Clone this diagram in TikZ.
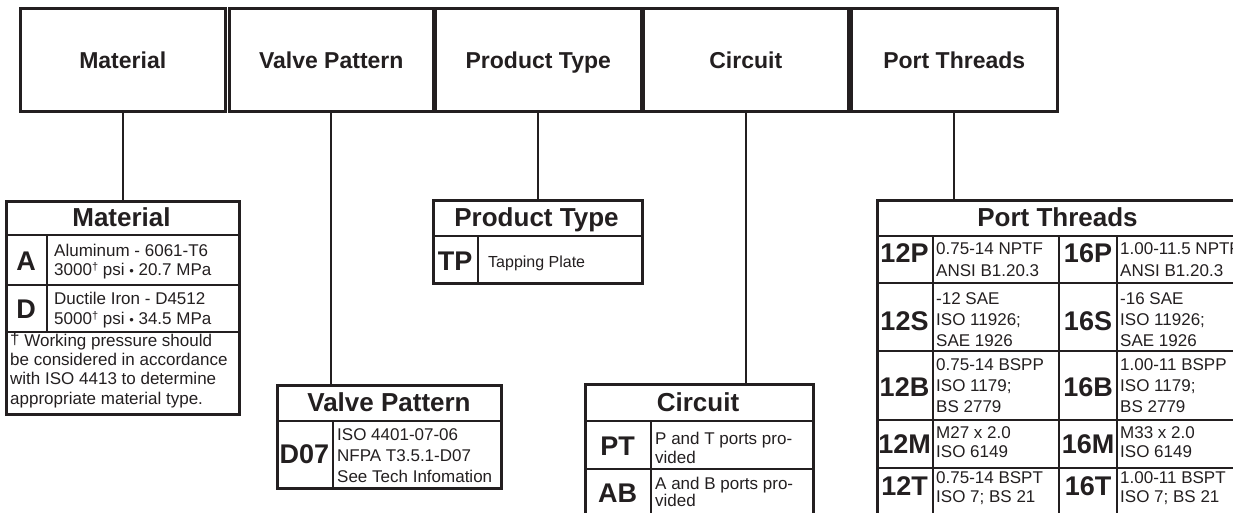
\documentclass[tikz,border=0pt]{standalone}
\usepackage{fontspec}
\setmainfont{Liberation Sans}
\definecolor{ink}{HTML}{231F20}
\newcommand\mybul{{\fontsize{13}{13}\selectfont •}}
\newcommand\mydag{\raisebox{5pt}{\fontsize{11}{11}\selectfont †}}
\begin{document}
\begin{tikzpicture}[x=1pt,y=-1pt,
  topbox/.style={draw=ink, line width=2.5pt, rectangle, inner sep=0pt, anchor=north west,
    minimum height=103pt, text=ink, font=\fontsize{23}{23}\selectfont\bfseries,
    text height=16.5pt, text depth=0pt},
  tab/.style={draw=ink, line width=2.6pt, rectangle, inner sep=0pt, anchor=north west},
  hdr/.style={font=\fontsize{26}{26}\selectfont\bfseries, anchor=base, inner sep=0pt, text=ink},
  code/.style={font=\fontsize{27}{27}\selectfont\bfseries, anchor=base, inner sep=0pt, text=ink},
  desc/.style={font=\fontsize{17}{#1}\selectfont, align=left, anchor=west, inner sep=0pt, text=ink},
  desc/.default=19,
  hl/.style={draw=ink, line width=2.1pt},
  vl/.style={draw=ink, line width=1.6pt},
  vthick/.style={draw=ink, line width=2.6pt},
  conn/.style={draw=ink, line width=2pt}]
\useasboundingbox (0,0) rectangle (1233,512);

% top boxes
\node[topbox, minimum width=205pt] (tmat) at (19,7) {Material};
\node[topbox, minimum width=204pt] (tvp) at (228,7) {Valve Pattern};
\node[topbox, minimum width=206pt] (tpt) at (434,7) {Product Type};
\node[topbox, minimum width=205pt] (tci) at (642,7) {Circuit};
\node[topbox, minimum width=206pt] (tpo) at (850,7) {Port Threads};

% table outlines
\node[tab, minimum width=233pt, minimum height=213pt] (mattab) at (5,200) {};
\node[tab, minimum width=224pt, minimum height=103pt] (vptab) at (276,384) {};
\node[tab, minimum width=209pt, minimum height=83pt] (pttab) at (432,199) {};
\node[tab, minimum width=228pt, minimum height=134pt] (citab) at (584,383) {};
\node[tab, minimum width=363pt, minimum height=316pt] (potab) at (876,199) {};

% connectors
\draw[conn] (tmat.south) -- (tmat.south |- mattab.north);
\draw[conn] (tvp.south) -- (tvp.south |- vptab.north);
\draw[conn] (tpt.south) -- (tpt.south |- pttab.north);
\draw[conn] (tci.south) -- (tci.south |- citab.north);
\draw[conn] (tpo.south) -- (tpo.south |- potab.north);

% Material table
\draw[hl] (5,235) -- (238,235);
\draw[hl] (5,285) -- (238,285);
\draw[hl] (5,332) -- (238,332);
\draw[vl] (47,235) -- (47,332);
\node[hdr] (mh) at (121.5,226.8) {Material};
\node[code] (ca) at (26,270) {A};
\node[code] (cd) at (26,318) {D};
\node[desc=19] (da) at (54,262) {Aluminum - 6061-T6\\3000\mydag\ psi \mybul\ 20.7 MPa};
\node[desc=20] (dd) at (54,310) {Ductile Iron - D4512\\5000\mydag\ psi \mybul\ 34.5 MPa};
\node[desc=19.3] (fn) at (10,370) {\raisebox{1.5pt}{†} Working pressure should\\be considered in accordance\\with ISO 4413 to determine\\appropriate material type.};

% Valve Pattern table
\draw[hl] (276,421) -- (500,421);
\draw[vl] (333,421) -- (333,487);
\node[hdr] (vh) at (389,411.8) {Valve Pattern};
\node[code] (cd07) at (304.5,463) {D07};
\node[desc=21] (dd07) at (337,456) {ISO 4401-07-06\\NFPA T3.5.1-D07\\See Tech Infomation};

% Product Type table
\draw[hl] (432,236) -- (641,236);
\draw[vl] (478,236) -- (478,282);
\node[hdr] (ph) at (536.5,226.8) {Product Type};
\node[code] (ctp) at (455,270) {TP};
\node[font=\fontsize{16}{16}\selectfont, anchor=base west, inner sep=0pt, text=ink] (dtp) at (488,267) {Tapping Plate};

% Circuit table
\draw[hl] (584,421) -- (812,421);
\draw[hl] (584,469) -- (812,469);
\draw[vl] (651,421) -- (651,517);
\node[hdr] (ch) at (698,411.3) {Circuit};
\node[code] (cpt) at (617.5,455) {PT};
\node[code] (cab) at (617.5,502) {AB};
\node[desc=19] (dpt) at (655,447.5) {P and T ports pro-\\vided};
\node[desc=17] (dab) at (655,491.5) {A and B ports pro-\\vided};

% Port Threads table
\draw[hl] (876,236) -- (1239,236);
\draw[hl] (876,283) -- (1239,283);
\draw[hl] (876,351) -- (1239,351);
\draw[hl] (876,420) -- (1239,420);
\draw[hl] (876,468) -- (1239,468);
\draw[vl] (933,236) -- (933,515);
\draw[vthick] (1059,236) -- (1059,515);
\draw[vl] (1117,236) -- (1117,515);
\node[hdr] (poh) at (1057.5,226.8) {Port Threads};
\node[code] (c12p) at (904.5,262) {12P};
\node[code] (c16p) at (1088,262) {16P};
\node[code] (c12s) at (904.5,330) {12S};
\node[code] (c16s) at (1088,330) {16S};
\node[code] (c12b) at (904.5,396) {12B};
\node[code] (c16b) at (1088,396) {16B};
\node[code] (c12m) at (904.5,453) {12M};
\node[code] (c16m) at (1088,453) {16M};
\node[code] (c12t) at (904.5,495) {12T};
\node[code] (c16t) at (1088,495) {16T};
\node[desc=22] (d12p) at (936,259.5) {0.75-14 NPTF\\ANSI B1.20.3};
\node[desc=22] (d16p) at (1120,259.5) {1.00-11.5 NPTF\\ANSI B1.20.3};
\node[desc=21] (d12s) at (936,319.5) {-12 SAE\\ISO 11926;\\SAE 1926};
\node[desc=21] (d16s) at (1120,319.5) {-16 SAE\\ISO 11926;\\SAE 1926};
\node[desc=21] (d12b) at (936,386) {0.75-14 BSPP\\ISO 1179;\\BS 2779};
\node[desc=21] (d16b) at (1120,386) {1.00-11 BSPP\\ISO 1179;\\BS 2779};
\node[desc=19] (d12m) at (936,442.5) {M27 x 2.0\\ISO 6149};
\node[desc=19] (d16m) at (1120,442.5) {M33 x 2.0\\ISO 6149};
\node[desc=19] (d12t) at (936,488) {0.75-14 BSPT\\ISO 7; BS 21};
\node[desc=19] (d16t) at (1120,488) {1.00-11 BSPT\\ISO 7; BS 21};
\end{tikzpicture}
\end{document}
